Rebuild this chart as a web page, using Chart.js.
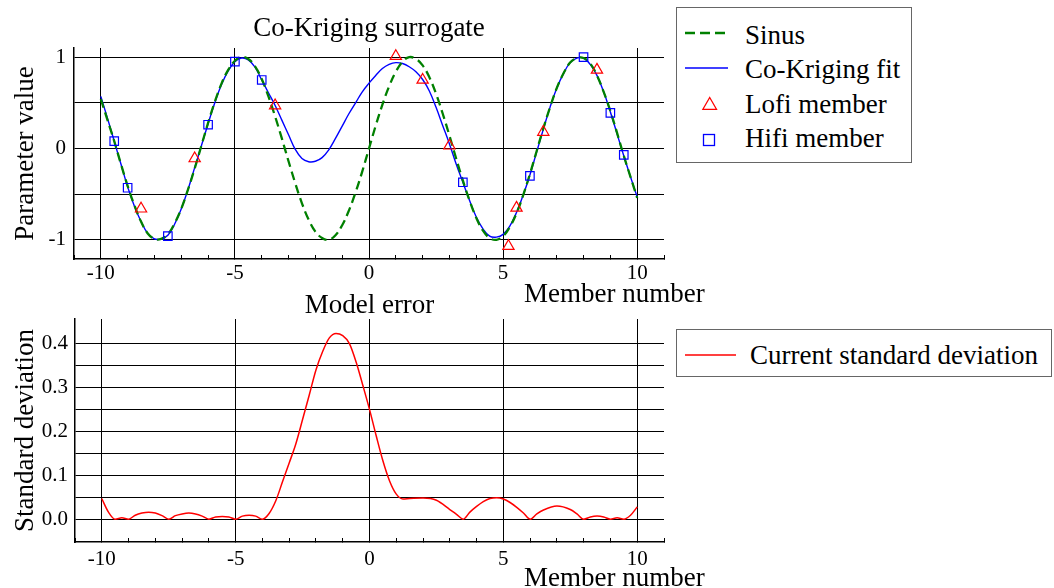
<!DOCTYPE html>
<html>
<head>
<meta charset="utf-8">
<title>Co-Kriging surrogate</title>
<script src="https://cdn.jsdelivr.net/npm/chart.js@4/dist/chart.umd.min.js"></script>
<style>
  html, body { margin: 0; padding: 0; background: #fff; }
  #page { position: relative; width: 1054px; height: 588px; overflow: hidden; background: #fff; }
  #page canvas { position: absolute; left: 0; }
  #fitChart { top: 0; }
  #errorChart { top: 290px; }
  #overlay { position: absolute; left: 0; top: 0; pointer-events: none; }
  #overlay text { font-family: "Liberation Serif", "Times New Roman", serif; font-size: 27px; fill: #000; }
</style>
</head>
<body>
<div id="page">
  <canvas id="fitChart" width="680" height="290"></canvas>
  <canvas id="errorChart" width="680" height="298"></canvas>

  <svg id="overlay" width="1054" height="588">
    <!-- legend of the surrogate plot -->
    <g transform="translate(676,7)">
      <rect x="0.5" y="0.5" width="235" height="155" fill="#fff" stroke="#666" stroke-width="1"/>
      <line x1="9" y1="26" x2="52" y2="26" stroke="#008000" stroke-width="2.3" stroke-dasharray="10 5"/>
      <text x="69" y="37.3">Sinus</text>
      <line x1="9" y1="61" x2="52" y2="61" stroke="#0000ff" stroke-width="1.5"/>
      <text x="69" y="71.3">Co-Kriging fit</text>
      <polygon points="33.7,90.5 40.5,102.3 26.9,102.3" fill="none" stroke="#ff0000" stroke-width="1.3"/>
      <text x="69" y="105.7">Lofi member</text>
      <rect x="27.5" y="127.5" width="11" height="11" fill="none" stroke="#0000ff" stroke-width="1.3"/>
      <text x="69" y="140.3">Hifi member</text>
    </g>
    <!-- legend of the error plot -->
    <g transform="translate(676,329)">
      <rect x="0.5" y="0.5" width="375" height="47" fill="#fff" stroke="#666" stroke-width="1"/>
      <line x1="9" y1="26" x2="60" y2="26" stroke="#ff0000" stroke-width="1.5"/>
      <text x="74" y="35.3">Current standard deviation</text>
    </g>
    <!-- x axis titles sit past the plot's right edge -->
    <text x="524" y="302">Member number</text>
    <text x="524" y="586">Member number</text>
  </svg>
</div>

<script>
// member positions for the two smooth curves
const memberGrid = [-10, -9.75, -9.5, -9.25, -9, -8.75, -8.5, -8.25, -8, -7.75, -7.5, -7.25, -7, -6.75, -6.5, -6.25,
    -6, -5.75, -5.5, -5.25, -5, -4.75, -4.5, -4.25, -4, -3.75, -3.5, -3.25, -3, -2.75, -2.5, -2.25,
    -2, -1.75, -1.5, -1.25, -1, -0.75, -0.5, -0.25, 0, 0.25, 0.5, 0.75, 1, 1.25, 1.5, 1.75,
    2, 2.25, 2.5, 2.75, 3, 3.25, 3.5, 3.75, 4, 4.25, 4.5, 4.75, 5, 5.25, 5.5, 5.75,
    6, 6.25, 6.5, 6.75, 7, 7.25, 7.5, 7.75, 8, 8.25, 8.5, 8.75, 9, 9.25, 9.5, 9.75, 10]

const sinusValues = [0.54, 0.31, 0.08, -0.17, -0.41, -0.62, -0.80, -0.93, -0.99, -0.99, -0.94, -0.82, -0.66, -0.45, -0.22, 0.03,
    0.28, 0.51, 0.71, 0.86, 0.96, 1.00, 0.98, 0.90, 0.76, 0.57, 0.35, 0.11, -0.14, -0.38, -0.60, -0.78,
    -0.91, -0.98, -1.00, -0.95, -0.84, -0.68, -0.48, -0.25, 0.00, 0.25, 0.48, 0.68, 0.84, 0.95, 1.00, 0.98,
    0.91, 0.78, 0.60, 0.38, 0.14, -0.11, -0.35, -0.57, -0.76, -0.90, -0.98, -1.00, -0.96, -0.86, -0.71, -0.51,
    -0.28, -0.03, 0.22, 0.45, 0.66, 0.82, 0.94, 0.99, 0.99, 0.93, 0.80, 0.62, 0.41, 0.17, -0.08, -0.31, -0.54]

const fitValues = [0.57, 0.33, 0.08, -0.17, -0.42, -0.63, -0.80, -0.93, -0.99, -0.99, -0.95, -0.83, -0.66, -0.45, -0.21, 0.03,
    0.27, 0.50, 0.70, 0.85, 0.95, 0.99, 0.97, 0.89, 0.75, 0.61, 0.47, 0.31, 0.15, -0.01, -0.11, -0.145,
    -0.14, -0.10, -0.015, 0.11, 0.245, 0.38, 0.50, 0.62, 0.715, 0.80, 0.875, 0.92, 0.94, 0.93, 0.895, 0.84,
    0.755, 0.63, 0.45, 0.25, 0.05, -0.17, -0.37, -0.57, -0.75, -0.88, -0.96, -0.97, -0.94, -0.85, -0.70, -0.51,
    -0.29, -0.04, 0.21, 0.45, 0.66, 0.82, 0.94, 0.99, 0.99, 0.92, 0.80, 0.62, 0.40, 0.16, -0.08, -0.31, -0.53]

const lofiMembers = [-8.5, -6.5, -3.5, 1, 2, 3, 5.2, 5.5, 6.5, 8.5]
const lofiValues = [-0.66, -0.11, 0.47, 1.01, 0.75, 0.03, -1.07, -0.65, 0.18, 0.86]

const hifiMembers = [-9.5, -9, -7.5, -6, -5, -4, 3.5, 6, 8, 9, 9.5]
const hifiValues = [0.08, -0.43, -0.96, 0.26, 0.95, 0.75, -0.37, -0.30, 1.00, 0.39, -0.07]

const stdMembers = [-10, -9.75, -9.5, -9.25, -9, -8.75, -8.5, -8.25, -8, -7.75, -7.5, -7.25, -7, -6.75, -6.5, -6.25, -6, -5.75, -5.5, -5.25, -5, -4.75, -4.5, -4.25, -4,
    -3.75, -3.5, -3.25, -3, -2.75, -2.5, -2.25, -2, -1.75, -1.5, -1.25, -1, -0.75, -0.5, -0.25, 0, 0.25, 0.5, 0.75, 1, 1.25, 1.5,
    2, 2.5, 3,
    3.25, 3.5, 3.75, 4, 4.25, 4.5, 4.75, 5, 5.25, 5.5, 5.75, 6, 6.25, 6.5,
    7, 7.5,
    7.75, 8, 8.25, 8.5, 8.75, 9, 9.25, 9.5, 9.75, 10]
const stdValues = [0.047, 0.016, 0, 0.003, 0, 0.009, 0.014, 0.016, 0.014, 0.008, 0, 0.008, 0.012, 0.014, 0.012, 0.007, 0, 0.005, 0.006, 0.005, 0, 0.007, 0.009, 0.007, 0,
    0.013, 0.042, 0.085, 0.128, 0.172, 0.227, 0.283, 0.34, 0.382, 0.413, 0.423, 0.418, 0.40, 0.358, 0.305, 0.25, 0.19, 0.133, 0.087, 0.057, 0.046, 0.047,
    0.048, 0.043, 0.022,
    0.011, 0, 0.016, 0.029, 0.04, 0.047, 0.049, 0.046, 0.038, 0.027, 0.014, 0, 0.012, 0.021,
    0.03, 0.022,
    0.012, 0, 0.005, 0.007, 0.005, 0, 0.003, 0, 0.009, 0.028]

// tick positions; only the ones in the *Labels lists get a number
const memberTicks = [-11, -10, -9, -8, -7, -6, -5, -4, -3, -2, -1, 0, 1, 2, 3, 4, 5, 6, 7, 8, 9, 10, 11]
const memberTickLabels = [-10, -5, 0, 5, 10]
const fitTicks = [-1, -0.5, 0, 0.5, 1]
const fitTickLabels = [-1, 0, 1]
const errorTicks = [0, 0.05, 0.1, 0.15, 0.2, 0.25, 0.3, 0.35, 0.4]
const errorTickLabels = [0, 0.1, 0.2, 0.3, 0.4]

function points(xs, ys) {
    return xs.map(function(x, i) {
        return { x: x, y: ys[i] }
    })
}

function hasValue(list, v) {
    return list.some(function(t) { return Math.abs(t - v) < 1e-9 })
}

function fixedTicks(values) {
    return function(scale) {
        scale.ticks = values.map(function(v) { return { value: v } })
    }
}

Chart.defaults.font.family = '"Liberation Serif", "Times New Roman", serif'
Chart.defaults.color = '#000'

const clear = 'rgba(0,0,0,0)'
const tickFont = { size: 21, lineHeight: 1 }
const titleFont = { size: 27, lineHeight: 1, weight: 'normal' }

function memberAxis(height, labelPad) {
    return {
        type: 'linear',
        min: -11,
        max: 11,
        afterBuildTicks: fixedTicks(memberTicks),
        afterFit: function(scale) { scale.height = height },
        ticks: {
            autoSkip: false,
            maxRotation: 0,
            padding: labelPad,
            font: tickFont,
            callback: function(v) { return hasValue(memberTickLabels, v) ? String(v) : '' }
        },
        grid: {
            color: function(ctx) {
                return ctx.tick && hasValue(memberTickLabels, ctx.tick.value) ? '#000' : clear
            },
            tickColor: '#000',
            tickLength: -4,
            lineWidth: 1
        },
        border: { color: '#000', width: 1.5 }
    }
}

new Chart(document.getElementById('fitChart'), {
    type: 'scatter',
    data: {
        datasets: [{
            label: 'Lofi member',
            data: points(lofiMembers, lofiValues),
            pointStyle: 'triangle',
            pointRadius: 6.5,
            borderColor: '#ff0000',
            backgroundColor: clear,
            pointBorderWidth: 1.2
        }, {
            label: 'Hifi member',
            data: points(hifiMembers, hifiValues),
            pointStyle: 'rect',
            pointRadius: 6,
            borderColor: '#0000ff',
            backgroundColor: clear,
            pointBorderWidth: 1.2
        }, {
            label: 'Sinus',
            data: points(memberGrid, sinusValues),
            showLine: true,
            borderColor: '#008000',
            borderWidth: 2.3,
            borderDash: [9, 5],
            pointRadius: 0,
            tension: 0.4
        }, {
            label: 'Co-Kriging fit',
            data: points(memberGrid, fitValues),
            showLine: true,
            borderColor: '#0000ff',
            borderWidth: 1.4,
            pointRadius: 0,
            tension: 0.4
        }]
    },
    options: {
        responsive: false,
        animation: false,
        events: [],
        layout: { padding: { right: 16 } },
        plugins: {
            legend: { display: false },
            tooltip: { enabled: false },
            title: {
                display: true,
                text: 'Co-Kriging surrogate',
                fullSize: false,
                font: titleFont,
                padding: { top: 15, bottom: 6 }
            }
        },
        scales: {
            x: memberAxis(31, 8),
            y: {
                min: -1.21,
                max: 1.1,
                afterBuildTicks: fixedTicks(fitTicks),
                afterFit: function(scale) { scale.width = 74 },
                ticks: {
                    padding: 8,
                    font: tickFont,
                    callback: function(v) { return hasValue(fitTickLabels, v) ? String(v) : '' }
                },
                grid: { color: '#000', drawTicks: false },
                border: { color: '#000', width: 1.5 },
                title: { display: true, text: 'Parameter value', font: titleFont, padding: { top: 12, bottom: 0 } }
            }
        }
    }
})

new Chart(document.getElementById('errorChart'), {
    type: 'scatter',
    data: {
        datasets: [{
            label: 'Current standard deviation',
            data: points(stdMembers, stdValues),
            showLine: true,
            borderColor: '#ff0000',
            borderWidth: 1.5,
            pointRadius: 0,
            cubicInterpolationMode: 'monotone'
        }]
    },
    options: {
        responsive: false,
        animation: false,
        events: [],
        layout: { padding: { right: 16 } },
        plugins: {
            legend: { display: false },
            tooltip: { enabled: false },
            title: {
                display: true,
                text: 'Model error',
                fullSize: false,
                font: titleFont,
                padding: { top: 2, bottom: 0 }
            }
        },
        scales: {
            x: memberAxis(46, 11),
            y: {
                min: -0.052,
                max: 0.456,
                afterBuildTicks: fixedTicks(errorTicks),
                afterFit: function(scale) { scale.width = 75 },
                ticks: {
                    padding: 7,
                    font: tickFont,
                    callback: function(v) { return hasValue(errorTickLabels, v) ? v.toFixed(1) : '' }
                },
                grid: { color: '#000', drawTicks: false },
                border: { color: '#000', width: 1.5 },
                title: { display: true, text: 'Standard deviation', font: titleFont, padding: { top: 12, bottom: 0 } }
            }
        }
    }
})
</script>
</body>
</html>
